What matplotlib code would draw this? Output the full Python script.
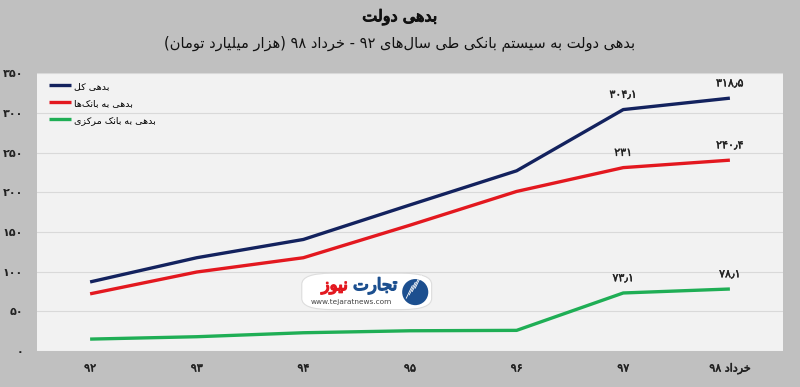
import re
import matplotlib
matplotlib.use("Agg")
import matplotlib.pyplot as plt
import matplotlib.patheffects as pe
from matplotlib.patches import FancyBboxPatch, Ellipse

# data (thousand billion toman)
years = ["۹۲", "۹۳", "۹۴", "۹۵", "۹۶", "۹۷", "خرداد ۹۸"]
total_debt = [87, 117.5, 140.5, 184, 227, 304.1, 318.5]
bank_debt = [72, 99.5, 117.5, 158.5, 201, 231, 240.4]
central_debt = [15, 18, 23, 25.5, 26, 73.1, 78.1]
label_idx = [5, 6]
total_labels = ["۳۰۴٫۱", "۳۱۸٫۵"]
bank_labels = ["۲۳۱", "۲۴۰٫۴"]
central_labels = ["۷۳٫۱", "۷۸٫۱"]
yticks = [0, 50, 100, 150, 200, 250, 300, 350]
ytick_labels = ["۰", "۵۰", "۱۰۰", "۱۵۰", "۲۰۰", "۲۵۰", "۳۰۰", "۳۵۰"]

title = "بدهی دولت"
subtitle = "بدهی دولت به سیستم بانکی طی سال\u200cهای ۹۲ - خرداد ۹۸ (هزار میلیارد تومان)"
series_names = ["بدهی کل", "بدهی به بانک\u200cها", "بدهی به بانک مرکزی"]

# minimal arabic/persian shaping: (isolated, final, initial, medial)
FORMS = {
    "ا": ("\uFE8D", "\uFE8E", None, None),
    "ب": ("\uFE8F", "\uFE90", "\uFE91", "\uFE92"),
    "ت": ("\uFE95", "\uFE96", "\uFE97", "\uFE98"),
    "ج": ("\uFE9D", "\uFE9E", "\uFE9F", "\uFEA0"),
    "خ": ("\uFEA5", "\uFEA6", "\uFEA7", "\uFEA8"),
    "د": ("\uFEA9", "\uFEAA", None, None),
    "ر": ("\uFEAD", "\uFEAE", None, None),
    "ز": ("\uFEAF", "\uFEB0", None, None),
    "س": ("\uFEB1", "\uFEB2", "\uFEB3", "\uFEB4"),
    "ط": ("\uFEC1", "\uFEC2", "\uFEC3", "\uFEC4"),
    "ل": ("\uFEDD", "\uFEDE", "\uFEDF", "\uFEE0"),
    "م": ("\uFEE1", "\uFEE2", "\uFEE3", "\uFEE4"),
    "ن": ("\uFEE5", "\uFEE6", "\uFEE7", "\uFEE8"),
    "ه": ("\uFEE9", "\uFEEA", "\uFEEB", "\uFEEC"),
    "و": ("\uFEED", "\uFEEE", None, None),
    "ی": ("\uFBFC", "\uFBFD", "\uFBFE", "\uFBFF"),
    "ک": ("\uFB8E", "\uFB8F", "\uFB90", "\uFB91"),
}


def shape(text):
    out = []
    for i, c in enumerate(text):
        if c not in FORMS:
            out.append(c)
            continue
        prev = text[i - 1] if i > 0 else None
        nxt = text[i + 1] if i < len(text) - 1 else None
        jp = prev in FORMS and FORMS[prev][2] is not None
        jn = nxt in FORMS and FORMS[c][2] is not None
        f = FORMS[c]
        if jp and jn:
            out.append(f[3])
        elif jp:
            out.append(f[1])
        elif jn:
            out.append(f[2])
        else:
            out.append(f[0])
    return "".join(out).replace("\u200c", "")


def rtl(text):
    tokens = re.findall(r"[0-9۰-۹٫.]+|.", shape(text))
    tokens.reverse()
    mirror = {"(": ")", ")": "("}
    return "".join(mirror.get(t, t) for t in tokens)


def bold(color, w=0.7):
    # fake bold, the bold face has no joined arabic forms
    return [pe.withStroke(linewidth=w, foreground=color)]


plt.rcParams["font.family"] = ["DejaVu Sans"]

fig = plt.figure(figsize=(8, 3.87), dpi=100, facecolor="#c0c0c0")
ax = fig.add_axes([0.046, 0.093, 0.933, 0.718])
ax.set_facecolor("#f2f2f2")

x = list(range(len(years)))
colors = ["#13225e", "#e3181f", "#1fae55"]
for vals, name, col in zip([total_debt, bank_debt, central_debt], series_names, colors):
    ax.plot(x, vals, color=col, lw=2.4, label=rtl(name), solid_capstyle="butt")

for vals, labs in zip([total_debt, bank_debt, central_debt],
                      [total_labels, bank_labels, central_labels]):
    for i, lab in zip(label_idx, labs):
        ax.annotate(lab, (i, vals[i]), xytext=(0, 7), textcoords="offset points",
                    ha="center", va="bottom", fontsize=8, color="#222222",
                    path_effects=bold("#222222", 0.3))

ax.set_xlim(-0.5, len(years) - 0.5)
ax.set_ylim(0, 350)
ax.set_xticks(x)
ax.set_xticklabels([rtl(y) for y in years], fontsize=8, color="#222222")
for t in ax.get_xticklabels():
    t.set_path_effects(bold("#222222", 0.4))
ax.set_yticks(yticks)
ax.set_yticklabels(ytick_labels, fontsize=8, color="#222222", fontweight="bold")
ax.tick_params(length=0)
ax.tick_params(axis="x", pad=9)
ax.tick_params(axis="y", pad=10)
ax.grid(axis="y", color="#d9d9d9", lw=0.8)
ax.set_axisbelow(True)
for s in ax.spines.values():
    s.set_visible(False)

leg = ax.legend(loc="upper left", bbox_to_anchor=(0.005, 1.0), frameon=False,
                fontsize=6.8, handlelength=2.3, handletextpad=0.3, labelspacing=0.85)

# watermark logo
ax.add_patch(FancyBboxPatch((0.358, 0.152), 0.168, 0.125,
                            boxstyle="round,pad=0.003,rounding_size=0.04",
                            transform=ax.transAxes, fc="white", ec="#dddddd", lw=0.8, zorder=4))
ax.add_patch(Ellipse((0.507, 0.212), 0.035, 0.094, transform=ax.transAxes,
                     fc="#1c4f8f", ec="none", zorder=5))
for k in range(4):
    ax.plot([0.495 + 0.004 * k, 0.503 + 0.004 * k], [0.19 + 0.012 * k, 0.235 + 0.012 * k],
            transform=ax.transAxes, color="white", lw=0.6, zorder=6)
ax.text(0.483, 0.236, rtl("تجارت"), transform=ax.transAxes, ha="right", va="center",
        fontsize=12, color="#1c4f8f", zorder=6, path_effects=bold("#1c4f8f", 1.1))
ax.text(0.417, 0.236, rtl("نیوز"), transform=ax.transAxes, ha="right", va="center",
        fontsize=12, color="#e3181f", zorder=6, path_effects=bold("#e3181f", 1.1))
ax.text(0.422, 0.176, "www.tejaratnews.com", transform=ax.transAxes, ha="center",
        va="center", fontsize=5.3, color="#444444", zorder=6)

fig.text(0.5, 0.955, rtl(title), ha="center", va="center", fontsize=11.5,
         color="#111111", path_effects=bold("#111111", 0.8))
fig.text(0.5, 0.888, rtl(subtitle), ha="center", va="center", fontsize=10.5, color="#111111")

fig.savefig("out.png", dpi=100, facecolor=fig.get_facecolor())
